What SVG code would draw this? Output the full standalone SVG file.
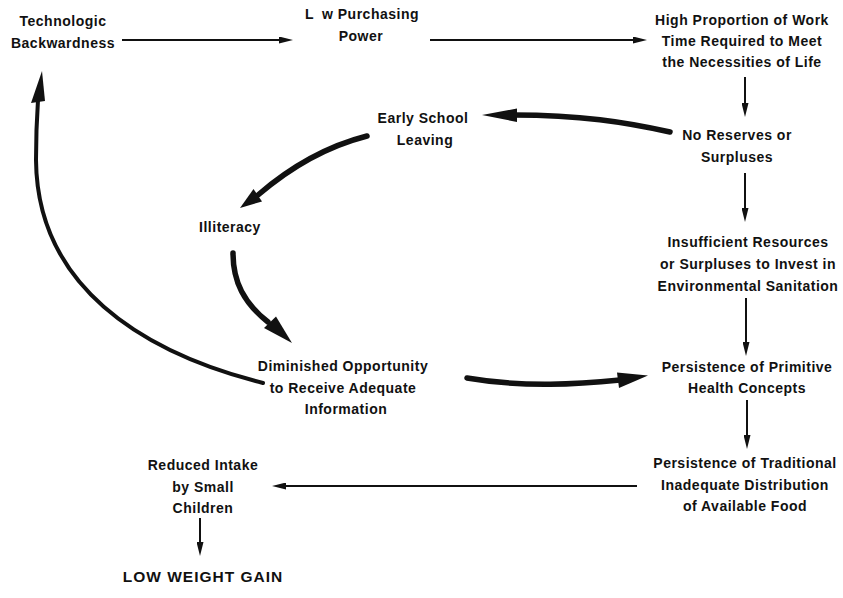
<svg xmlns="http://www.w3.org/2000/svg" width="843" height="598" viewBox="0 0 843 598">
  <defs>
    <style>
      text { font-family: "Liberation Sans", Arial, sans-serif; font-weight: bold; font-size: 14px; fill: #111; letter-spacing: 0.5px; text-anchor: middle; }
      .big { font-size: 15.5px; letter-spacing: 1px; }
      .thin { fill: none; stroke: #111; stroke-width: 2; }
      .thick { fill: none; stroke: #111; stroke-width: 5.5; stroke-linecap: round; }
      .arc { fill: none; stroke: #111; stroke-width: 4; stroke-linecap: round; }
      .head { fill: #111; stroke: none; }
    </style>
    <marker id="tip" viewBox="0 0 14 7" markerWidth="14" markerHeight="7" refX="8" refY="3.5" orient="auto" markerUnits="userSpaceOnUse">
      <path d="M0,0 L14,3.5 L0,7 z" fill="#111"/>
    </marker>
  </defs>

  <g id="connectors">
    <!-- thin straight links -->
    <line class="thin" x1="122" y1="40" x2="287" y2="40" marker-end="url(#tip)"/>
    <line class="thin" x1="430" y1="40" x2="641" y2="40" marker-end="url(#tip)"/>
    <line class="thin" x1="745" y1="77" x2="745" y2="111" marker-end="url(#tip)"/>
    <line class="thin" x1="745" y1="173" x2="745" y2="216" marker-end="url(#tip)"/>
    <line class="thin" x1="746" y1="298" x2="746" y2="350" marker-end="url(#tip)"/>
    <line class="thin" x1="747" y1="400" x2="747" y2="443" marker-end="url(#tip)"/>
    <line class="thin" x1="637" y1="486" x2="278" y2="486" marker-end="url(#tip)"/>
    <line class="thin" x1="200" y1="518" x2="200" y2="550" marker-end="url(#tip)"/>

    <!-- heavy curved links of the inner loop -->
    <path class="thick" d="M670,132 C625,122 580,115 514,115"/>
    <polygon class="head" points="482,115 517,108.5 517,122"/>

    <path class="thick" d="M367,136 C328,146 294,164 258,195"/>
    <polygon class="head" points="240,208 253.5,189 262,201.5"/>

    <path class="thick" d="M233,253 C233,282 244,303 268,322"/>
    <polygon class="head" points="292,343 264,328 276,316.5"/>

    <path class="thick" d="M467,378 C525,388 580,384 620,380"/>
    <polygon class="head" points="648,375.5 617,372.5 619,388"/>

    <!-- long return arc to the top-left node -->
    <path class="arc" d="M263,383 C140,352 37,285 36,160 C36,130 37,115 38,100"/>
    <polygon class="head" points="42,71 31,103 45,101"/>
  </g>

  <g id="technologic-backwardness">
    <text x="63" y="26">Technologic</text>
    <text x="63" y="48">Backwardness</text>
  </g>

  <g id="low-purchasing-power">
    <text x="305" y="19" style="text-anchor:start">L</text>
    <text x="322" y="19" style="text-anchor:start">w Purchasing</text>
    <text x="361" y="41">Power</text>
  </g>

  <g id="high-proportion">
    <text x="742" y="25">High Proportion of Work</text>
    <text x="742" y="46">Time Required to Meet</text>
    <text x="742" y="67">the Necessities of Life</text>
  </g>

  <g id="no-reserves">
    <text x="737" y="140">No Reserves or</text>
    <text x="737" y="162">Surpluses</text>
  </g>

  <g id="early-school-leaving">
    <text x="423" y="123">Early School</text>
    <text x="425" y="145">Leaving</text>
  </g>

  <g id="illiteracy">
    <text x="230" y="232">Illiteracy</text>
  </g>

  <g id="insufficient-resources">
    <text x="748" y="247">Insufficient Resources</text>
    <text x="748" y="269">or Surpluses to Invest in</text>
    <text x="748" y="291">Environmental Sanitation</text>
  </g>

  <g id="diminished-opportunity">
    <text x="343" y="371">Diminished Opportunity</text>
    <text x="343" y="393">to Receive Adequate</text>
    <text x="346" y="414">Information</text>
  </g>

  <g id="primitive-health-concepts">
    <text x="747" y="372">Persistence of Primitive</text>
    <text x="747" y="393">Health Concepts</text>
  </g>

  <g id="traditional-distribution">
    <text x="745" y="468">Persistence of Traditional</text>
    <text x="745" y="490">Inadequate Distribution</text>
    <text x="745" y="511">of Available Food</text>
  </g>

  <g id="reduced-intake">
    <text x="203" y="470">Reduced Intake</text>
    <text x="203" y="492">by Small</text>
    <text x="203" y="513">Children</text>
  </g>

  <g id="low-weight-gain">
    <text class="big" x="203" y="582">LOW WEIGHT GAIN</text>
  </g>
</svg>
